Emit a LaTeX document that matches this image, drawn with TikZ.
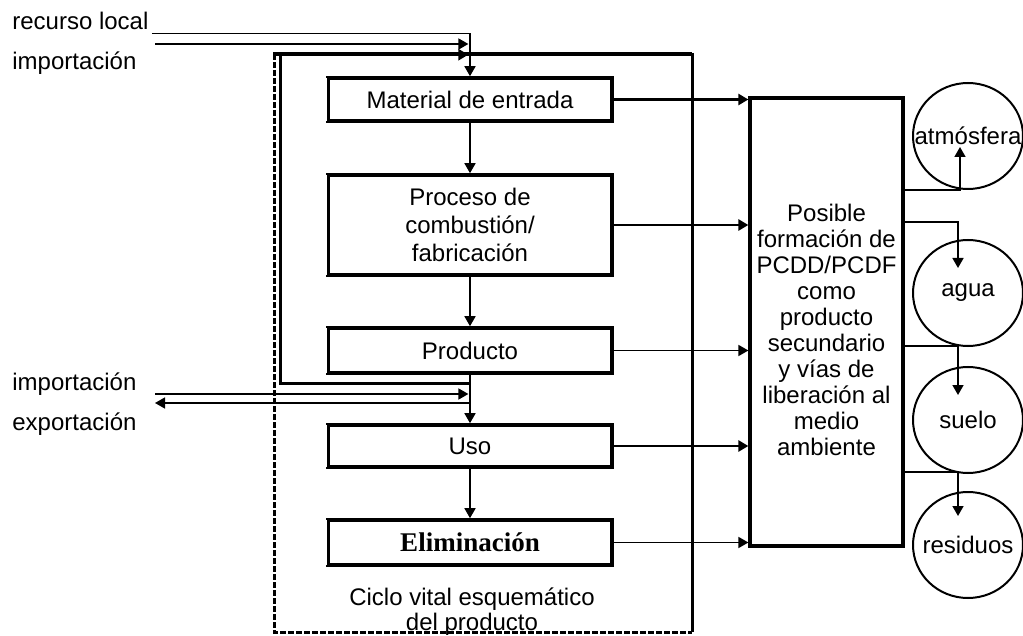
\documentclass[tikz,border=0pt]{standalone}
\usepackage{fontspec}
\setmainfont{Liberation Sans}
\newfontfamily\timesfont{Liberation Serif}
\usetikzlibrary{arrows.meta, shapes.geometric}

\begin{document}
\begin{tikzpicture}[x=0.5pt, y=-0.5pt,
    font=\fontsize{12}{13}\selectfont,
    stage/.style={draw, line width=1.8pt, minimum width=142pt,
                  align=center, inner sep=2pt},
    release/.style={draw, line width=1.6pt, minimum width=76.5pt,
                  minimum height=224pt, align=center, inner sep=2pt},
    pool/.style={ellipse, draw, line width=1pt, minimum width=55pt,
                  minimum height=53pt, inner sep=0pt},
    side/.style={anchor=base west, inner sep=1.5pt},
    flow/.style={-{Triangle[length=5pt,width=5.5pt]}, line width=0.8pt},
    bigflow/.style={flow, line width=1.4pt}]

    \useasboundingbox (0,0) rectangle (1023,636);

    % ciclo vital (marco)
    \draw[line width=2pt] (273,54) -- (692,54);
    \draw[line width=1.5pt] (692,53) -- (692,632);
    \draw[line width=1.5pt, dash pattern=on 3pt off 1pt]
        (274,54) -- (274,632) -- (692,632);

    % etapas
    \node[stage, minimum height=21.5pt] (mat) at (470,99.5) {Material de entrada};
    \node[stage, minimum height=50pt, font=\fontsize{12}{14}\selectfont]
        (proc) at (470,225) {Proceso de\\combustión/\\fabricación};
    \node[stage, minimum height=22.5pt] (prod) at (470,350.5) {Producto};
    \node[stage, minimum height=21pt] (uso) at (470,446) {Uso};
    \node[stage, minimum height=22.5pt,
          font=\timesfont\bfseries\fontsize{13.5}{15}\selectfont]
        (elim) at (470,542.5) {Eliminación};
    \foreach \b in {mat,proc,prod,uso,elim}
        \draw[white, line width=0.5pt]
            ([yshift=0.9pt]\b.south west) -- ([yshift=-0.9pt]\b.north west);

    \node[align=center, font=\fontsize{12}{12.5}\selectfont]
        (cycle) at (472,612) {Ciclo vital esquemático\\del producto};

    % liberacion y medios
    \node[release] (rel) at (826.5,322) {\rule{0pt}{17pt}Posible\\formación de\\PCDD/PCDF\\como\\producto\\secundario\\y vías de\\liberación al\\medio\\ambiente};
    \node[pool, label=center:atmósfera] (atm) at (968,136) {};
    \node[pool, label=center:agua] (agua) at (968,293) {};
    \node[pool, label=center:suelo] (suelo) at (968,420) {};
    \node[pool, label=center:residuos] (res) at (968,545) {};

    % entradas y salidas
    \node[side] (rl) at (9,30) {recurso local};
    \node[side] (imp1) at (9,70) {importación};
    \node[side] (imp2) at (9,390) {importación};
    \node[side] (exp) at (9,430) {exportación};
    \coordinate (impin) at (155,44);
    \coordinate (impout) at (155,394);
    \coordinate (expout) at (155,403);

    \draw[flow] (rl.south east) -| (mat.north);
    \draw[flow, shorten >=0.8pt] (impin) -- (impin -| mat.north);
    \draw[flow, line width=1.5pt] ([yshift=-4.5pt]prod.south)
        -| ([xshift=-95pt,yshift=10.75pt]mat.north)
        -- ([xshift=-0.8pt,yshift=10.75pt]mat.north);
    \draw[flow, shorten >=0.8pt] (impout) -- (impout -| prod.south);
    \draw[flow] (expout -| prod.south) -- (expout);

    \draw[flow] (mat) -- (proc);
    \draw[flow] (proc) -- (prod);
    \draw[flow] (prod) -- (uso);
    \draw[flow] (uso) -- (elim);

    \draw[bigflow] (mat.east) -- (mat.east -| rel.west);
    \draw[bigflow] (proc.east) -- (proc.east -| rel.west);
    \draw[flow] (prod.east) -- (prod.east -| rel.west);
    \draw[bigflow] (uso.east) -- (uso.east -| rel.west);
    \draw[flow] (elim.east) -- (elim.east -| rel.west);

    \draw[flow] ([yshift=66pt]rel.east) -| ([xshift=-4pt,yshift=-5.5pt]atm.center);
    \draw[flow] ([yshift=50pt]rel.east) -| ([xshift=-5pt,yshift=12.5pt]agua.center);
    \draw[flow] ([yshift=-12pt]rel.east) -| ([xshift=-5pt,yshift=12.5pt]suelo.center);
    \draw[flow] ([yshift=-75pt]rel.east) -| ([xshift=-5pt,yshift=14.5pt]res.center);
\end{tikzpicture}
\end{document}
